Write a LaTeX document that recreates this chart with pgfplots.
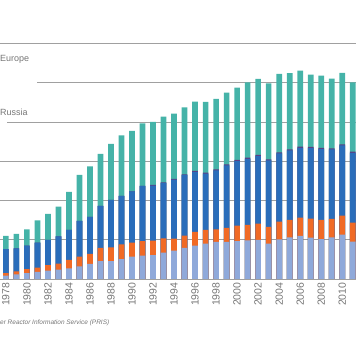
\documentclass[border=0pt]{standalone}
\usepackage{fontspec}
\setmainfont{Liberation Sans}
\usepackage{pgfplots}
\pgfplotsset{compat=1.18}
\usepackage{pgfplotstable}

\definecolor{cteal}{HTML}{45B3A8}
\definecolor{cblue}{HTML}{2A6DBA}
\definecolor{cpurple}{HTML}{5A3F84}
\definecolor{corange}{HTML}{F06A25}
\definecolor{clight}{HTML}{8FA9DA}
\definecolor{cgrid}{HTML}{A0A0A0}
\definecolor{ctext}{HTML}{767676}

% cumulative tops of each stacked segment
\pgfplotstableread{
year total purple blue orange light
1978 219.4 153.0 153.0 30.6 17.0
1979 229.6 156.4 156.4 39.2 23.8
1980 253.4 170.0 170.0 51.0 30.6
1981 299.4 185.4 185.4 57.8 35.8
1982 331.6 199.0 199.0 71.4 42.6
1983 369.0 217.6 217.6 78.2 47.6
1984 443.8 250.0 250.0 97.0 54.4
1985 530.6 296.0 296.0 114.0 64.6
1986 574.8 316.4 316.4 127.6 76.6
1987 637.8 372.4 372.4 158.2 91.8
1988 688.8 403.0 403.0 161.6 91.8
1989 733.0 423.4 423.4 176.8 102.0
1990 755.2 447.2 447.2 185.4 114.0
1991 794.2 474.4 474.4 193.8 119.0
1992 801.0 479.6 476.6 195.6 122.4
1993 828.2 493.2 490.2 207.4 134.4
1994 843.6 510.2 507.2 205.8 144.6
1995 875.8 534.0 531.0 221.0 158.2
1996 904.8 551.0 546.0 239.8 170.0
1997 903.0 542.6 537.6 250.0 180.2
1998 918.4 559.6 554.6 253.4 188.8
1999 950.6 585.0 580.0 260.2 188.8
2000 976.2 607.2 601.2 272.2 193.8
2001 1003.4 619.0 613.0 275.6 197.2
2002 1020.4 632.6 626.6 282.4 199.0
2003 998.2 610.6 604.6 265.4 180.2
2004 1046.0 646.2 640.2 292.6 202.4
2005 1049.4 661.6 655.6 301.0 212.6
2006 1063.0 675.2 669.2 313.0 219.4
2007 1042.6 673.4 667.4 307.8 210.8
2008 1037.4 668.4 662.4 301.0 204.0
2009 1022.2 666.6 660.6 306.2 212.6
2010 1051.0 687.0 681.0 323.2 226.2
2011 1003.4 649.6 643.6 287.4 190.4
}\data

\begin{document}
\begin{tikzpicture}
\useasboundingbox (0,0) rectangle (356bp,364bp);
\begin{axis}[
  at={(0,85bp)}, anchor=south west,
  scale only axis, width=356bp, height=279bp,
  xmin=1977.44, xmax=2011.31, ymin=0, ymax=1423,
  axis x line*=bottom, axis y line*=left,
  x axis line style={draw=cgrid, line width=0.9pt, -},
  y axis line style={draw=none},
  ymajorgrids, ytick={200,400,...,1200}, yticklabels={},
  major grid style={draw=cgrid, line width=0.9pt},
  xtick={1978,1980,...,2010}, major tick length=0pt,
  /pgf/number format/assume math mode=true,
  /pgf/number format/1000 sep={},
  xticklabel style={rotate=90, anchor=east, text=ctext,
    font=\fontsize{10.5}{12}\selectfont, inner sep=3.5bp},
]
\addplot[ybar, bar width=0.54, bar shift=0pt, fill=cteal, draw=none] table[x=year, y=total] {\data};
\addplot[ybar, bar width=0.54, bar shift=0pt, fill=cpurple, draw=none] table[x=year, y=purple] {\data};
\addplot[ybar, bar width=0.54, bar shift=0pt, fill=cblue, draw=none] table[x=year, y=blue] {\data};
\addplot[ybar, bar width=0.54, bar shift=0pt, fill=corange, draw=none] table[x=year, y=orange] {\data};
\addplot[ybar, bar width=0.54, bar shift=0pt, fill=clight, draw=none] table[x=year, y=light] {\data};
\end{axis}
\fill[white] (0,279bp) rectangle (37bp,283bp);
\fill[white] (0,240bp) rectangle (7bp,244bp);
\node[anchor=west, inner sep=0pt, text=ctext, font=\fontsize{9}{11}\selectfont] at (0bp,305bp) {Europe};
\node[anchor=west, inner sep=0pt, text=ctext, font=\fontsize{9}{11}\selectfont] at (0bp,252bp) {Russia};
\node[anchor=west, inner sep=0pt, text=ctext, font=\fontsize{6.5}{8}\selectfont\itshape] at (0bp,41bp) {er Reactor Information Service (PRIS)};
\end{tikzpicture}
\end{document}
